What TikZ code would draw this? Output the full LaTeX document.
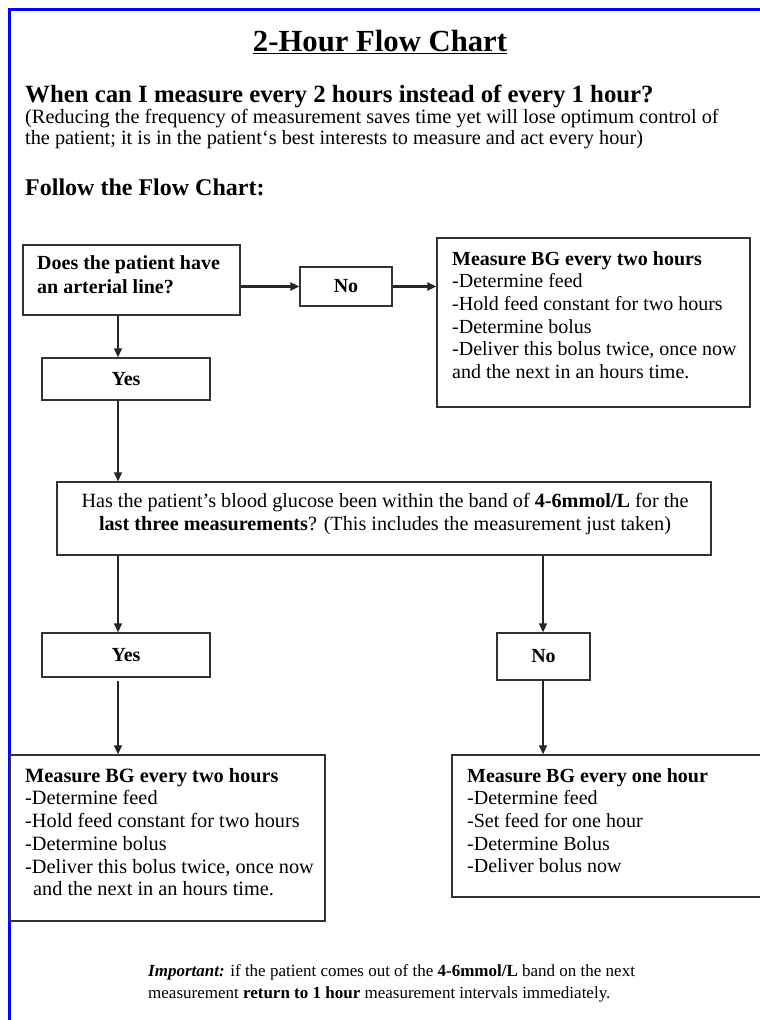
\documentclass[tikz,border=0pt]{standalone}
\usepackage{fontspec}
\setmainfont{Liberation Serif}
\usetikzlibrary{arrows.meta}
\begin{document}
\begin{tikzpicture}[x=1pt,y=-1pt,
  bx/.style={draw=black!80, line width=1.3pt, inner sep=0pt},
  arr/.style={draw=black!85, line width=1.3pt, -{Triangle[length=9pt,width=8pt]}},
  body/.style={font=\fontsize{20}{22.7}\selectfont, inner sep=0pt, align=left, anchor=north west},
  bodyb/.style={font=\bfseries\fontsize{20}{22.7}\selectfont},
]
\useasboundingbox (0,0) rectangle (760,1020);
\fill[white] (0,0) rectangle (760,1020);
\draw[blue, line width=3pt] (9.5,1020) -- (9.5,9.5) -- (760,9.5);

% header texts
\node[font=\bfseries\fontsize{30.7}{34}\selectfont, inner sep=0pt, anchor=base] (title) at (380,51) {\underline{2-Hour Flow Chart}};
\node[font=\bfseries\fontsize{24.8}{28}\selectfont, inner sep=0pt, anchor=base west] (question) at (25,102) {When can I measure every 2 hours instead of every 1 hour?};
\node[font=\fontsize{20.3}{22}\selectfont, inner sep=0pt, anchor=base west] (para1) at (25,123) {(Reducing the frequency of measurement saves time yet will lose optimum control of};
\node[font=\fontsize{20.3}{22}\selectfont, inner sep=0pt, anchor=base west] (para2) at (25,144) {the patient; it is in the patient`s best interests to measure and act every hour)};
\node[font=\bfseries\fontsize{24}{28}\selectfont, inner sep=0pt, anchor=base west] (follow) at (25,195) {Follow the Flow Chart:};

% boxes
\node[bx, minimum width=217pt, minimum height=70pt] (q1) at (131.5,280) {};
\node[body, font=\bfseries\fontsize{20}{24.5}\selectfont] (q1t) at (37,255) {Does the patient have\\an arterial line?};
\node[bx, bodyb, minimum width=92pt, minimum height=39pt] (no1) at (346,286.5) {No};
\node[bx, minimum width=313pt, minimum height=169pt] (tr) at (593.5,322.5) {};
\node[body] (trt) at (452,251) {\textbf{Measure BG every two hours}\\-Determine feed\\-Hold feed constant for two hours\\-Determine bolus\\-Deliver this bolus twice, once now\\and the next in an hours time.};
\node[bx, bodyb, minimum width=168pt, minimum height=42pt] (yes1) at (126,379) {Yes};
\node[bx, minimum width=654pt, minimum height=73pt] (big) at (384,518.5) {};
\node[body, align=center, anchor=north, font=\fontsize{20.2}{22.7}\selectfont] (bigt) at (385,493) {Has the patient’s blood glucose been within the band of \textbf{4-6mmol/L} for the\\\textbf{last three measurements}? (This includes the measurement just taken)};
\node[bx, bodyb, minimum width=168pt, minimum height=44pt] (yes2) at (126,655) {Yes};
\node[bx, bodyb, minimum width=93pt, minimum height=47pt] (no2) at (543.5,656.5) {No};
\node[bx, minimum width=315pt, minimum height=166pt] (bl) at (167.5,838) {};
\node[body, font=\fontsize{20.3}{22.7}\selectfont] (blt) at (25,768) {\textbf{Measure BG every two hours}\\-Determine feed\\-Hold feed constant for two hours\\-Determine bolus\\-Deliver this bolus twice, once now\\\hspace*{8pt}and the next in an hours time.};
\node[bx, minimum width=318pt, minimum height=142pt] (br) at (611,826) {};
\node[body] (brt) at (467,768) {\textbf{Measure BG every one hour}\\-Determine feed\\-Set feed for one hour\\-Determine Bolus\\-Deliver bolus now};

\node[font=\fontsize{17}{22}\selectfont, inner sep=0pt, align=left, anchor=north west] (imp) at (148,964) {\textbf{\textit{Important:}} if the patient comes out of the \textbf{4-6mmol/L} band on the next\\measurement \textbf{return to 1 hour} measurement intervals immediately.};

% connectors
\coordinate (c1) at (118,0);
\coordinate (c2) at (543,0);
\draw[arr, line width=2.2pt] (q1.east |- no1.west) -- (no1.west);
\draw[arr, line width=2.2pt] (no1.east) -- (tr.west |- no1.east);
\draw[arr] (c1 |- q1.south) -- (c1 |- yes1.north);
\draw[arr] (c1 |- yes1.south) -- (c1 |- big.north);
\draw[arr] (c1 |- big.south) -- (c1 |- yes2.north);
\draw[arr] (c2 |- big.south) -- (c2 |- no2.north);
\draw[arr] (c1 |- yes2.south) ++(0,3) -- (c1 |- bl.north);
\draw[arr] (c2 |- no2.south) -- (c2 |- br.north);
\end{tikzpicture}
\end{document}
